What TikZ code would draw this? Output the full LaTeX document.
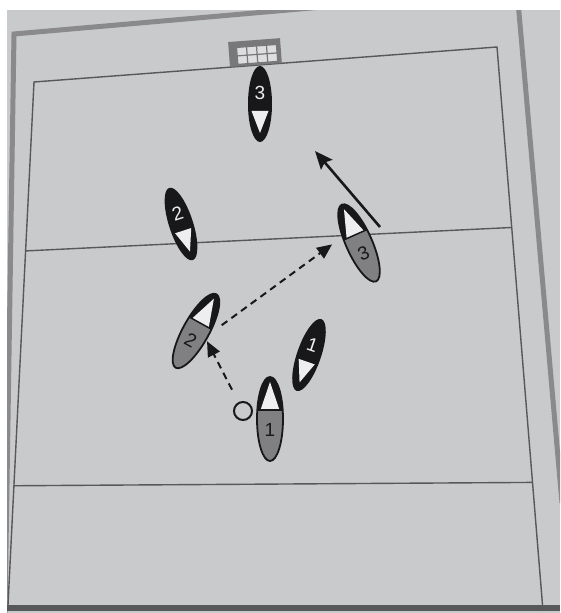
\documentclass[tikz,border=0pt]{standalone}
\usepackage{fontspec}
\setmainfont{Liberation Sans}
\usetikzlibrary{shapes.geometric, arrows.meta, calc}

\definecolor{paper}{RGB}{201,202,204}
\definecolor{framegrey}{RGB}{138,138,140}
\definecolor{linegrey}{RGB}{88,88,90}
\definecolor{playerblack}{RGB}{24,24,26}
\definecolor{playergrey}{RGB}{128,128,130}
\definecolor{tipwhite}{RGB}{238,238,240}
\definecolor{goalgrey}{RGB}{120,120,122}
\definecolor{goalwhite}{RGB}{222,222,224}

\begin{document}
\begin{tikzpicture}[
    x=1pt, y=1pt,
    fieldline/.style={draw=linegrey, line width=1.4pt},
    frameline/.style={draw=framegrey, line width=5pt},
    body/.style={ellipse, inner sep=0pt, outer sep=0pt},
    num/.style={font=\fontsize{19}{19}\selectfont, inner sep=0pt},
    ball/.style={draw=playerblack, circle, line width=2pt, minimum size=18pt, inner sep=0pt},
    pass/.style={draw=playerblack, line width=2pt, dash pattern=on 7pt off 5pt, -{Triangle[length=15pt, width=13pt]}},
    run/.style={draw=playerblack, line width=2.6pt, -{Stealth[length=18pt, width=15pt, inset=3pt]}},
    pics/blackplayer/.style={code={
        \fill[playerblack] (0,0) ellipse [x radius=12pt, y radius=38pt];
        \fill[tipwhite] (-8.5,-7) -- (8.5,-7) -- (0,-29) -- cycle;
        \node[num, text=tipwhite] at (0,11) {#1};
        \node[body, minimum width=24pt, minimum height=76pt] (-body) {};
    }},
    pics/greyplayer/.style={code={
        \begin{scope}
            \clip (0,0) ellipse [x radius=13pt, y radius=42pt];
            \fill[playergrey] (-14,-43) rectangle (14,9);
            \fill[playerblack] (-14,9) rectangle (14,43);
        \end{scope}
        \fill[tipwhite] (-9.5,9) -- (9.5,9) -- (0,37) -- cycle;
        \draw[playerblack, line width=1.5pt] (-12.5,9) -- (12.5,9);
        \draw[playerblack, line width=1.8pt] (0,0) ellipse [x radius=13pt, y radius=42pt];
        \node[num, text=playerblack] at (0,-11) {#1};
        \node[body, minimum width=26pt, minimum height=84pt] (-body) {};
    }}
]

% Paper
\useasboundingbox (0,0) rectangle (560,613);
\fill[white] (0,0) rectangle (560,613);
\fill[paper] (7,0) rectangle (560,602.5);

% Page frame
\begin{scope}
    \clip (7,0) rectangle (560,602.5);
    \draw[frameline] (5,0) -- (14,579) -- (517,623) -- (562,110);
\end{scope}
\draw[draw=linegrey, line width=6pt] (7,5) -- (560,5);

% Field
\coordinate (tl) at (34,531);
\coordinate (tr) at (497,566);
\coordinate (br) at (543,2);
\coordinate (bl) at (8,8);
\draw[fieldline] (bl) -- (tl) -- (tr) -- (br);
\draw[fieldline] ($(tl)!0.323!(bl)$) -- ($(tr)!0.32!(br)$);
\draw[fieldline] ($(tl)!0.772!(bl)$) -- ($(tr)!0.772!(br)$);

% Goal
\begin{scope}[shift={(230,546)}, rotate=4.3]
    \fill[goalgrey] (0,0) rectangle (52,25);
    \fill[goalwhite] (8,2) rectangle (48,19);
    \draw[goalgrey, line width=1.2pt, shift={(8,2)}, xstep=10, ystep=8.5] (0,0) grid (40,17);
\end{scope}

% Black team
\pic[transform shape] (b3) at (260,509) {blackplayer=3};
\pic[rotate=18, transform shape] (b2) at (181,389) {blackplayer=2};
\pic[rotate=-19, transform shape] (b1) at (309,258) {blackplayer=1};

% Grey team
\pic[rotate=24, transform shape] (g3) at (359,370) {greyplayer=3};
\pic[rotate=-29, transform shape] (g2) at (196,282) {greyplayer=2};
\pic[transform shape] (g1) at (270,194) {greyplayer=1};

% Ball
\node[ball] (ball) at (243,202) {};

% Passes and run
\draw[pass, shorten <=14pt, shorten >=2pt] (ball) -- (g2-body.349);
\draw[pass, shorten <=16pt, shorten >=13pt] (g2-body.13) -- (g3-body.135);
\coordinate (runfrom) at ([shift={(21,16)}]g3-body.center);
\coordinate (runto) at ([shift={(-44,92)}]g3-body.center);
\draw[run] (runfrom) -- (runto);

\end{tikzpicture}
\end{document}
